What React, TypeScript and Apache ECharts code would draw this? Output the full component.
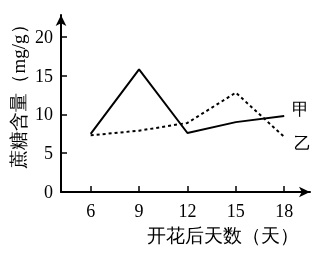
import React, { useEffect, useRef } from "react";
import * as echarts from "echarts";

const days = [6, 9, 12, 15, 18];
const jia = [7.5, 15.8, 7.6, 9.0, 9.8];
const yi = [7.3, 7.9, 8.9, 12.8, 7.1];
const yTicks = [0, 5, 10, 15, 20];
const xTitle = "开花后天数（天）";
const yTitle = "蔗糖含量（mg/g）";

const FONT = "Times New Roman, Liberation Serif, serif";

export default function App() {
  const ref = useRef<HTMLDivElement>(null);
  useEffect(() => {
    const chart = echarts.init(ref.current!, null, { renderer: "svg" });
    chart.setOption({
      animation: false,
      grid: { left: 61, right: 17, top: 15, bottom: 64 },
      xAxis: {
        type: "value",
        min: 4.16,
        max: 19.6,
        splitLine: { show: false },
        axisLine: {
          onZero: false,
          lineStyle: { color: "#000", width: 2 },
          symbol: ["none", "arrow"],
          symbolSize: [8, 11],
        },
        axisTick: {
          show: true,
          inside: true,
          length: 6,
          customValues: days,
          lineStyle: { color: "#000", width: 1.5 },
        },
        axisLabel: {
          customValues: days,
          color: "#000",
          fontSize: 18,
          fontFamily: FONT,
          margin: 10,
        },
      },
      yAxis: {
        type: "value",
        min: 0,
        max: 22.8,
        splitLine: { show: false },
        axisLine: {
          show: true,
          lineStyle: { color: "#000", width: 2 },
          symbol: ["none", "arrow"],
          symbolSize: [8, 11],
        },
        axisTick: {
          show: true,
          inside: true,
          length: 6,
          customValues: yTicks,
          lineStyle: { color: "#000", width: 1.5 },
        },
        axisLabel: {
          customValues: yTicks,
          color: "#000",
          fontSize: 18,
          fontFamily: FONT,
          margin: 8,
        },
      },
      series: [
        {
          type: "line",
          data: days.map((d, i) => [d, jia[i]]),
          showSymbol: false,
          lineStyle: { color: "#000", width: 2 },
          endLabel: {
            show: true,
            formatter: "甲",
            color: "#000",
            fontSize: 17,
            fontFamily: FONT,
            offset: [0, -6],
          },
        },
        {
          type: "line",
          data: days.map((d, i) => [d, yi[i]]),
          showSymbol: false,
          lineStyle: { color: "#000", width: 2, type: [3, 3] },
          endLabel: {
            show: true,
            formatter: "乙",
            color: "#000",
            fontSize: 17,
            fontFamily: FONT,
            offset: [2, 7],
          },
        },
      ],
      graphic: [
        {
          type: "text",
          x: 18,
          y: 92,
          rotation: Math.PI / 2,
          style: {
            text: yTitle,
            fill: "#000",
            fontSize: 19,
            fontFamily: FONT,
            textAlign: "center",
            textVerticalAlign: "middle",
          },
        },
        {
          type: "text",
          x: 223,
          y: 235,
          style: {
            text: xTitle,
            fill: "#000",
            fontSize: 19,
            fontFamily: FONT,
            textAlign: "center",
            textVerticalAlign: "middle",
          },
        },
      ],
    });
    return () => chart.dispose();
  }, []);
  return (
    <div
      ref={ref}
      style={{ position: "fixed", left: 0, top: 0, width: 327, height: 256 }}
    />
  );
}
